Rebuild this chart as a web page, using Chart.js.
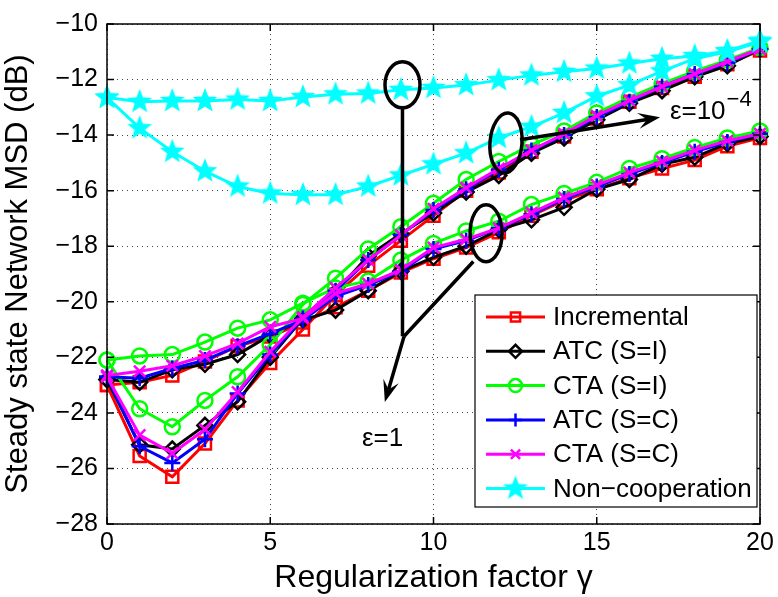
<!DOCTYPE html>
<html>
<head>
<meta charset="utf-8">
<script src="https://cdn.jsdelivr.net/npm/chart.js"></script>
<style>
  html, body { margin: 0; padding: 0; background: #fff; }
</style>
</head>
<body>
<canvas id="chart" width="778" height="597"></canvas>
<script>
// regularization factor gamma
const gamma = [0, 1, 2, 3, 4, 5, 6, 7, 8, 9, 10, 11, 12, 13, 14, 15, 16, 17, 18, 19, 20];

const seriesNames = ['Incremental', 'ATC (S=I)', 'CTA (S=I)', 'ATC (S=C)', 'CTA (S=C)', 'Non\u2212cooperation'];

// eps = 1e-4 (dips at small gamma, ends near -11 dB)
const incSmall  = [-23.0, -25.55, -26.3, -25.1, -23.55, -22.2, -21.0, -19.75, -18.7, -17.8, -16.9, -16.0, -15.35, -14.6, -14.05, -13.4, -12.8, -12.3, -11.9, -11.45, -10.95];
const atcISmall = [-22.8, -25.15, -25.3, -24.45, -23.6, -22.0, -20.6, -19.65, -18.35, -17.55, -16.8, -16.05, -15.45, -14.65, -14.1, -13.45, -12.85, -12.4, -11.9, -11.5, -10.9];
const ctaISmall = [-22.1, -23.85, -24.5, -23.55, -22.7, -21.55, -20.1, -19.15, -18.1, -17.3, -16.45, -15.6, -14.95, -14.35, -13.85, -13.2, -12.65, -12.15, -11.7, -11.3, -10.85];
const atcCSmall = [-22.7, -25.2, -25.8, -24.95, -23.3, -21.9, -20.6, -19.6, -18.5, -17.6, -16.7, -15.95, -15.25, -14.55, -14.0, -13.35, -12.8, -12.25, -11.8, -11.4, -10.9];
const ctaCSmall = [-22.7, -24.8, -25.45, -24.6, -23.25, -21.8, -20.55, -19.5, -18.5, -17.6, -16.65, -15.9, -15.2, -14.55, -13.95, -13.3, -12.75, -12.25, -11.8, -11.35, -10.9];
const nonSmall  = [-12.65, -13.75, -14.6, -15.3, -15.85, -16.1, -16.15, -16.15, -15.85, -15.45, -15.05, -14.65, -14.1, -13.7, -13.2, -12.6, -12.2, -11.7, -11.25, -11.0, -10.65];

// eps = 1 (shallow, ends near -14 dB)
const incOne  = [-23.0, -22.9, -22.65, -22.15, -21.6, -21.25, -20.75, -20.2, -19.6, -18.95, -18.45, -18.05, -17.5, -16.9, -16.35, -15.95, -15.55, -15.2, -14.9, -14.4, -14.1];
const atcIOne = [-22.8, -22.9, -22.45, -22.25, -21.9, -21.2, -20.65, -20.3, -19.6, -18.9, -18.4, -18.0, -17.4, -17.05, -16.6, -15.95, -15.6, -15.05, -14.8, -14.3, -14.05];
const ctaIOne = [-22.1, -21.95, -21.9, -21.45, -20.95, -20.65, -20.05, -19.5, -19.25, -18.5, -17.9, -17.45, -17.1, -16.5, -16.1, -15.7, -15.2, -14.85, -14.45, -14.1, -13.85];
const atcCOne = [-22.7, -22.75, -22.4, -22.1, -21.6, -21.15, -20.65, -19.8, -19.4, -18.9, -18.1, -17.8, -17.35, -16.85, -16.3, -15.85, -15.4, -15.0, -14.6, -14.25, -13.95];
const ctaCOne = [-22.65, -22.5, -22.3, -21.95, -21.5, -20.9, -20.6, -19.7, -19.35, -18.85, -18.05, -17.75, -17.35, -16.8, -16.25, -15.8, -15.35, -14.95, -14.55, -14.2, -13.95];
const nonOne  = [-12.65, -12.8, -12.77, -12.77, -12.72, -12.77, -12.63, -12.53, -12.5, -12.37, -12.3, -12.2, -12.02, -11.85, -11.72, -11.6, -11.42, -11.25, -11.15, -10.97, -10.6];

const FONT = '"Liberation Sans", Arial, Helvetica, sans-serif';

function makeStar(size, color) {
    const c = document.createElement('canvas');
    c.width = size;
    c.height = size;
    const g = c.getContext('2d');
    const R = size / 2 - 1, r = R * 0.42;
    g.beginPath();
    for (let i = 0; i < 10; i++) {
        const a = -Math.PI / 2 + (i * Math.PI) / 5;
        const rr = i % 2 ? r : R;
        g.lineTo(size / 2 + rr * Math.cos(a), size / 2 + rr * Math.sin(a));
    }
    g.closePath();
    g.fillStyle = color;
    g.fill();
    return c;
}
const starImg = makeStar(28, '#00ffff');

// marker styles, MATLAB-ish
const styles = [
    { color: '#ff0000', point: 'rect', r: 8.5 },
    { color: '#000000', point: 'rectRot', r: 7.5 },
    { color: '#00ff00', point: 'circle', r: 7.5 },
    { color: '#0000ff', point: 'cross', r: 8 },
    { color: '#ff00ff', point: 'crossRot', r: 8 },
    { color: '#00ffff', point: starImg, r: 13 },
];

const groups = [
    [incOne, atcIOne, ctaIOne, atcCOne, ctaCOne, nonOne],
    [incSmall, atcISmall, ctaISmall, atcCSmall, ctaCSmall, nonSmall],
];

const datasets = [];
groups.forEach((grp) => {
    grp.forEach((vals, k) => {
        const s = styles[k];
        datasets.push({
            label: seriesNames[k],
            data: gamma.map((g, i) => ({ x: g, y: vals[i] })),
            borderColor: s.color,
            backgroundColor: s.color,
            borderWidth: 3,
            pointStyle: s.point,
            pointRadius: s.r,
            pointBorderColor: s.color,
            pointBackgroundColor: 'rgba(0,0,0,0)',
            pointBorderWidth: 2.5,
            tension: 0,
            clip: false,
            order: 6 - k,
        });
    });
});

function arrowTo(ctx, x1, y1, x2, y2) {
    const a = Math.atan2(y2 - y1, x2 - x1);
    const L = 22, W = 8;
    const ca = Math.cos(a), sa = Math.sin(a);
    ctx.beginPath();
    ctx.moveTo(x1, y1);
    ctx.lineTo(x2 - ca * L * 0.6, y2 - sa * L * 0.6);
    ctx.stroke();
    ctx.beginPath();
    ctx.moveTo(x2, y2);
    ctx.lineTo(x2 - L * ca + W * sa, y2 - L * sa - W * ca);
    ctx.lineTo(x2 - 0.6 * L * ca, y2 - 0.6 * L * sa);
    ctx.lineTo(x2 - L * ca - W * sa, y2 - L * sa + W * ca);
    ctx.closePath();
    ctx.fill();
}

const decor = {
    id: 'decor',
    afterDraw(chart) {
        const ctx = chart.ctx;
        const { left, right, top, bottom } = chart.chartArea;
        const xs = chart.scales.x, ys = chart.scales.y;
        const X = (v) => xs.getPixelForValue(v);
        const Y = (v) => ys.getPixelForValue(v);
        ctx.save();

        // axes box and inward ticks
        ctx.strokeStyle = '#000';
        ctx.lineWidth = 1.5;
        ctx.strokeRect(left, top, right - left, bottom - top);
        ctx.beginPath();
        xs.ticks.forEach((t) => {
            const px = X(t.value);
            ctx.moveTo(px, bottom); ctx.lineTo(px, bottom - 7);
            ctx.moveTo(px, top); ctx.lineTo(px, top + 7);
        });
        ys.ticks.forEach((t) => {
            const py = Y(t.value);
            ctx.moveTo(left, py); ctx.lineTo(left + 7, py);
            ctx.moveTo(right, py); ctx.lineTo(right - 7, py);
        });
        ctx.stroke();

        // annotations: ellipses and arrows
        ctx.strokeStyle = '#000';
        ctx.fillStyle = '#000';
        ctx.lineWidth = 3.5;
        ctx.beginPath();
        ctx.ellipse(X(9.05), Y(-12.19), 17.5, 23, 0, 0, Math.PI * 2);
        ctx.stroke();
        ctx.beginPath();
        ctx.ellipse(X(11.61), Y(-17.53), 16, 28.5, 0, 0, Math.PI * 2);
        ctx.stroke();
        ctx.beginPath();
        ctx.ellipse(X(12.22), Y(-14.28), 16, 30, 0.08, 0, Math.PI * 2);
        ctx.stroke();

        ctx.beginPath();
        ctx.moveTo(X(9.05), Y(-12.19) + 23);
        ctx.lineTo(X(9.05), Y(-21.24));
        ctx.moveTo(X(11.22), Y(-18.55));
        ctx.lineTo(X(9.1), Y(-21.24));
        ctx.stroke();
        arrowTo(ctx, X(9.1), Y(-21.24), X(8.51), Y(-23.61));
        arrowTo(ctx, X(12.65), Y(-14.17), X(16.94), Y(-13.36));

        ctx.font = '26px ' + FONT;
        ctx.textBaseline = 'alphabetic';
        ctx.textAlign = 'left';
        ctx.fillText('\u03b5=1', X(7.81), Y(-25.2));
        const ex = X(17.24), ey = Y(-13.43);
        ctx.fillText('\u03b5=10', ex, ey);
        const w = ctx.measureText('\u03b5=10').width;
        ctx.font = '22px ' + FONT;
        ctx.fillText('\u22124', ex + w + 1, ey - 13);

        // legend box
        const lw = 282, lh = 212;
        const lx = right - 3 - lw, ly = bottom - 17 - lh;
        ctx.fillStyle = '#fff';
        ctx.fillRect(lx, ly, lw, lh);
        ctx.lineWidth = 1.2;
        ctx.strokeStyle = '#000';
        ctx.strokeRect(lx, ly, lw, lh);
        ctx.font = '26px ' + FONT;
        ctx.textBaseline = 'middle';
        seriesNames.forEach((name, k) => {
            const s = styles[k];
            const ry = ly + 22 + k * 34.3;
            ctx.strokeStyle = s.color;
            ctx.lineWidth = 3;
            ctx.beginPath();
            ctx.moveTo(lx + 11, ry);
            ctx.lineTo(lx + 70, ry);
            ctx.stroke();
            ctx.lineWidth = 2.5;
            ctx.fillStyle = k === 5 ? s.color : 'rgba(0,0,0,0)';
            Chart.helpers.drawPoint(ctx, {
                pointStyle: s.point,
                radius: k === 5 ? 13 : 6.5,
                rotation: 0,
                borderWidth: 2.5,
            }, lx + 40.5, ry);
            ctx.fillStyle = '#000';
            ctx.fillText(name, lx + 78, ry + 1);
        });
        ctx.restore();
    },
};

new Chart(document.getElementById('chart'), {
    type: 'line',
    data: { datasets },
    options: {
        responsive: false,
        animation: false,
        layout: { padding: { top: 15, right: 18, left: 0, bottom: 0 } },
        plugins: {
            legend: { display: false },
            tooltip: { enabled: false },
        },
        scales: {
            x: {
                type: 'linear',
                min: 0,
                max: 20,
                ticks: {
                    stepSize: 5,
                    color: '#000',
                    font: { family: FONT, size: 25 },
                    padding: 4,
                    maxRotation: 0,
                },
                grid: { color: '#444', lineWidth: 1, drawTicks: false },
                border: { display: false, dash: [1, 4] },
                title: {
                    display: true,
                    text: 'Regularization factor \u03b3',
                    color: '#000',
                    font: { family: FONT, size: 32 },
                    padding: { top: 0, bottom: 0 },
                },
                afterFit(scale) { scale.height = 73; },
            },
            y: {
                min: -28,
                max: -10,
                ticks: {
                    stepSize: 2,
                    color: '#000',
                    font: { family: FONT, size: 25 },
                    padding: 9,
                    callback: (v) => (v < 0 ? '\u2212' + Math.abs(v) : String(v)),
                },
                grid: { color: '#444', lineWidth: 1, drawTicks: false },
                border: { display: false, dash: [1, 4] },
                title: {
                    display: true,
                    text: 'Steady state Network MSD (dB)',
                    color: '#000',
                    font: { family: FONT, size: 31 },
                    padding: { top: 0, bottom: 0 },
                },
                afterFit(scale) { scale.width = 107; },
            },
        },
    },
    plugins: [decor],
});
</script>
</body>
</html>
